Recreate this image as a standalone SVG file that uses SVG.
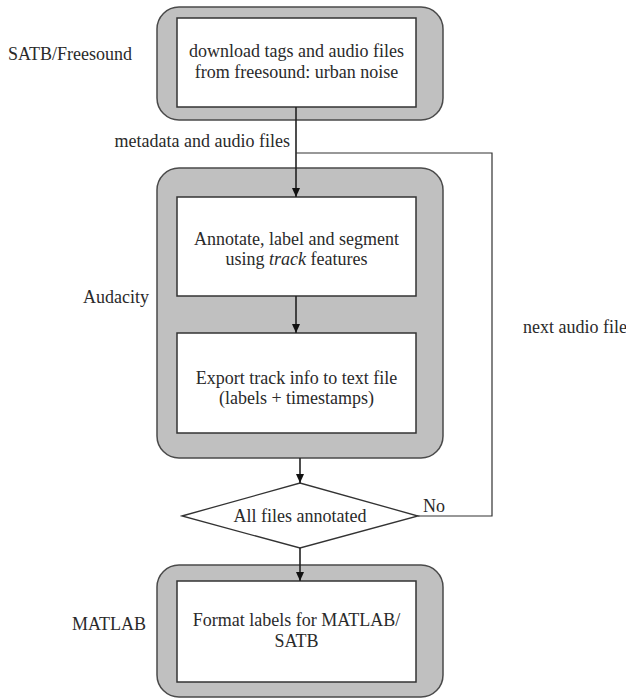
<svg xmlns="http://www.w3.org/2000/svg" width="626" height="699" viewBox="0 0 626 699">
<style>
.lane{fill:#c0c0c0;stroke:#4a4a4a;stroke-width:1.5}
.box{fill:#fff;stroke:#333;stroke-width:1.5}
.dia{fill:#fff;stroke:#333;stroke-width:1.3}
text{font-family:"Liberation Serif","Times New Roman",serif;font-size:18px;fill:#2a2a2a}
.c{text-anchor:middle}
.e{text-anchor:end}
.con{fill:none;stroke:#222;stroke-width:1.6}
.loop{fill:none;stroke:#333;stroke-width:1.2}
</style>
<defs>
<marker id="ah" viewBox="0 0 9 8" refX="9" refY="4" markerWidth="9" markerHeight="8" markerUnits="userSpaceOnUse" orient="auto">
<path d="M0,0 L9,4 L0,8 z" fill="#111"/>
</marker>
</defs>
<g id="lane-satb-freesound">
<rect class="lane" x="157" y="7" width="286" height="113" rx="22" ry="22"/>
<text x="8" y="60">SATB/Freesound</text>
</g>
<g id="lane-audacity">
<rect class="lane" x="157" y="168" width="286" height="290" rx="22" ry="22"/>
<text class="e" x="149" y="303">Audacity</text>
</g>
<g id="lane-matlab">
<rect class="lane" x="157" y="565" width="286" height="132" rx="22" ry="22"/>
<text class="e" x="146" y="630">MATLAB</text>
</g>
<g id="download">
<rect class="box" x="177" y="18" width="239" height="89"/>
<text class="c" x="296.5" y="57">download tags and audio files</text>
<text class="c" x="296.5" y="78">from freesound: urban noise</text>
</g>
<g id="annotate">
<rect class="box" x="177" y="197" width="239" height="99"/>
<text class="c" x="296.5" y="245">Annotate, label and segment</text>
<text class="c" x="296.5" y="265">using <tspan font-style="italic">track</tspan> features</text>
</g>
<g id="export">
<rect class="box" x="177" y="333" width="239" height="100"/>
<text class="c" x="296.5" y="384">Export track info to text file</text>
<text class="c" x="296.5" y="404">(labels + timestamps)</text>
</g>
<g id="decision">
<polygon class="dia" points="182,516 300,483 418,516 300,548"/>
<text class="c" x="300" y="522">All files annotated</text>
</g>
<g id="format">
<rect class="box" x="177" y="581" width="239" height="101"/>
<text class="c" x="296.5" y="626">Format labels for MATLAB/</text>
<text class="c" x="296.5" y="647">SATB</text>
</g>
<g id="connectors">
<line class="con" x1="296" y1="107" x2="296" y2="197" marker-end="url(#ah)"/>
<line class="con" x1="296" y1="296" x2="296" y2="333" marker-end="url(#ah)"/>
<line class="con" x1="300" y1="458" x2="300" y2="483" marker-end="url(#ah)"/>
<line class="con" x1="300" y1="548" x2="300" y2="581" marker-end="url(#ah)"/>
<path class="loop" d="M418,516 H492 V153 H296"/>
<text class="e" x="290" y="147">metadata and audio files</text>
<text x="523" y="333">next audio file</text>
<text x="423" y="512">No</text>
</g>
</svg>
